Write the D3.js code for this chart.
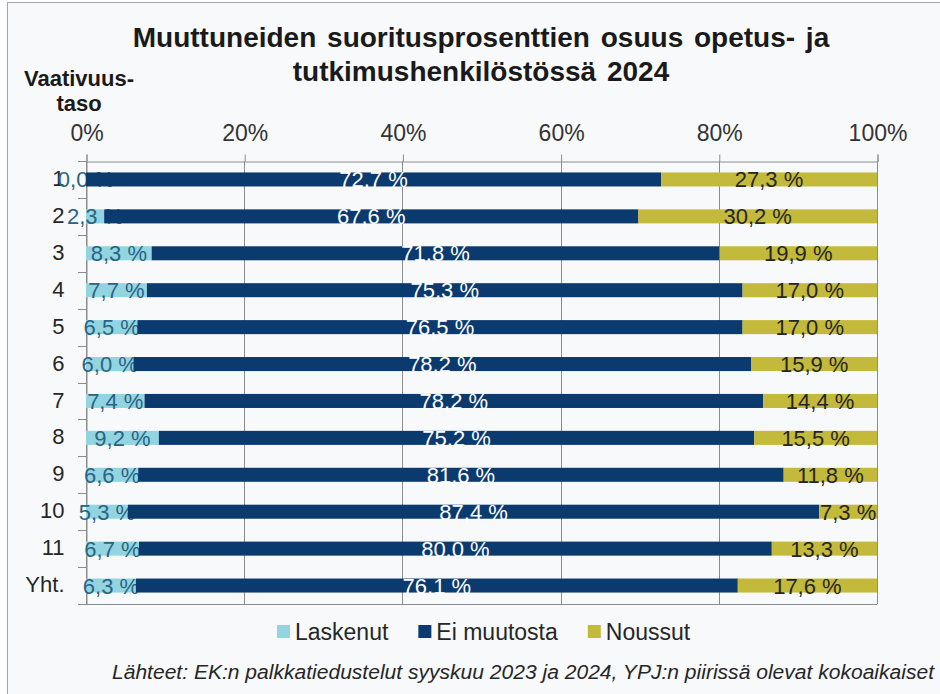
<!DOCTYPE html>
<html>
<head>
<meta charset="utf-8">
<script src="https://cdn.jsdelivr.net/npm/d3@7"></script>
<style>
  body { margin: 0; background: #fff; }
  svg { display: block; }
</style>
</head>
<body>
<div id="chart"></div>
<script>
// Chart data
const categories = ['1', '2', '3', '4', '5', '6', '7', '8', '9', '10', '11', 'Yht.'];
const laskenut = [0.0, 2.3, 8.3, 7.7, 6.5, 6.0, 7.4, 9.2, 6.6, 5.3, 6.7, 6.3];
const eiMuutosta = [72.7, 67.6, 71.8, 75.3, 76.5, 78.2, 78.2, 75.2, 81.6, 87.4, 80.0, 76.1];
const noussut = [27.3, 30.2, 19.9, 17.0, 17.0, 15.9, 14.4, 15.5, 11.8, 7.3, 13.3, 17.6];
const seriesNames = ['Laskenut', 'Ei muutosta', 'Noussut'];
const xTicks = [0, 0.2, 0.4, 0.6, 0.8, 1];
const titleLines = ['Muuttuneiden suoritusprosenttien osuus opetus- ja', 'tutkimushenkilöstössä 2024'];
const axisTitle = ['Vaativuus-', 'taso'];
const sourceText = 'Lähteet:  EK:n palkkatiedustelut  syyskuu 2023 ja 2024, YPJ:n piirissä olevat kokoaikaiset';

const width = 940, height = 694;
const font = '"Liberation Sans", Arial, sans-serif';
const colors = ['#93d4e1', '#0b3a6f', '#c3b93a'];
const labelColors = ['#2a6483', '#ffffff', '#262626'];
const margin = { top: 161, right: 63, bottom: 90, left: 86 };

const fi = d3.formatLocale({ decimal: ',', thousands: ' ', grouping: [3], currency: ['', ' €'] });
const fmtVal = v => fi.format('.1f')(v) + ' %';

const rows = categories.map((c, i) => ({
  cat: c,
  'Laskenut': laskenut[i],
  'Ei muutosta': eiMuutosta[i],
  'Noussut': noussut[i]
}));
const stacked = d3.stack().keys(seriesNames).offset(d3.stackOffsetExpand)(rows);

const svg = d3.select('#chart').append('svg')
  .attr('width', width)
  .attr('height', height)
  .style('font-family', font);

// frame
svg.append('rect')
  .attr('x', 7.5).attr('y', 2.5)
  .attr('width', width).attr('height', height)
  .attr('fill', '#f8f9fb')
  .attr('stroke', '#a6a6a6');

const x = d3.scaleLinear().domain([0, 1]).range([margin.left, width - margin.right]);
const y = d3.scaleBand().domain(categories)
  .range([margin.top, height - margin.bottom])
  .paddingInner(0.62).paddingOuter(0.31);
const step = y.step();

// title
svg.append('g').selectAll('text')
  .data(titleLines)
  .enter().append('text')
  .attr('x', 481)
  .attr('y', (d, i) => 47 + i * 34)
  .attr('text-anchor', 'middle')
  .attr('font-size', 28)
  .attr('font-weight', 'bold')
  .attr('word-spacing', 3)
  .attr('fill', '#1a1a1a')
  .text(d => d);

svg.append('g').selectAll('text')
  .data(axisTitle)
  .enter().append('text')
  .attr('x', 79)
  .attr('y', (d, i) => 86 + i * 25)
  .attr('text-anchor', 'middle')
  .attr('font-size', 22)
  .attr('font-weight', 'bold')
  .attr('fill', '#1a1a1a')
  .text(d => d);

// gridlines
const plotTop = y.range()[0], plotBottom = y.range()[1];
svg.append('g').selectAll('line')
  .data(xTicks)
  .enter().append('line')
  .attr('x1', d => Math.round(x(d)) + 0.5)
  .attr('x2', d => Math.round(x(d)) + 0.5)
  .attr('y1', plotTop)
  .attr('y2', plotBottom)
  .attr('stroke', '#8c8c8c');

// top axis
const xAxis = svg.append('g')
  .attr('transform', `translate(0.5,${Math.round(plotTop) + 0.5})`)
  .call(d3.axisTop(x).tickValues(xTicks).tickFormat(d3.format('.0%')).tickSize(7).tickPadding(14))
  .attr('font-family', font);
xAxis.select('.domain').attr('stroke', '#8c8c8c');
xAxis.selectAll('.tick line').attr('stroke', '#8c8c8c');
xAxis.selectAll('.tick text').attr('font-size', 23).attr('fill', '#333');

// bottom frame line
svg.append('line')
  .attr('x1', x(0)).attr('x2', x(1))
  .attr('y1', Math.round(plotBottom) + 0.5).attr('y2', Math.round(plotBottom) + 0.5)
  .attr('stroke', '#8c8c8c');

// left axis
const yAxis = svg.append('g')
  .attr('transform', `translate(${Math.round(x(0)) + 0.5},0)`)
  .call(d3.axisLeft(y).tickSize(0).tickPadding(22))
  .attr('font-family', font);
yAxis.select('.domain').attr('stroke', '#8c8c8c');
yAxis.selectAll('.tick text').attr('font-size', 22).attr('fill', '#262626').attr('dy', '0.3em');

// ticks between categories
const bounds = categories.map(c => y(c) - step * y.paddingInner() / 2).concat([plotBottom]);
svg.append('g').selectAll('line')
  .data(bounds)
  .enter().append('line')
  .attr('x1', Math.round(x(0)) - 8).attr('x2', Math.round(x(0)))
  .attr('y1', d => Math.round(d) + 0.5).attr('y2', d => Math.round(d) + 0.5)
  .attr('stroke', '#8c8c8c');

// bars and labels, series by series
stacked.forEach((s, si) => {
  const g = svg.append('g');
  g.selectAll('rect')
    .data(s)
    .enter().append('rect')
    .attr('x', d => x(d[0]))
    .attr('y', d => y(d.data.cat))
    .attr('width', d => x(d[1]) - x(d[0]))
    .attr('height', y.bandwidth())
    .attr('fill', colors[si]);
  g.selectAll('text')
    .data(s)
    .enter().append('text')
    .attr('x', d => x((d[0] + d[1]) / 2))
    .attr('y', d => y(d.data.cat) + y.bandwidth() / 2 + 8)
    .attr('text-anchor', 'middle')
    .attr('font-size', 22)
    .attr('fill', labelColors[si])
    .text(d => fmtVal(d.data[s.key]));
});

// legend
const legend = svg.append('g').attr('transform', 'translate(277,625)');
let lx = 0;
seriesNames.forEach((name, i) => {
  const item = legend.append('g').attr('transform', `translate(${lx},0)`);
  item.append('rect').attr('width', 13).attr('height', 13).attr('fill', colors[i]);
  const t = item.append('text')
    .attr('x', 18).attr('y', 15)
    .attr('font-size', 23)
    .attr('fill', '#262626')
    .text(name);
  lx += 18 + t.node().getComputedTextLength() + 30;
});

// source
svg.append('text')
  .attr('x', 112).attr('y', 679)
  .attr('font-size', 20)
  .attr('font-style', 'italic')
  .attr('fill', '#262626')
  .attr('textLength', 822)
  .attr('lengthAdjust', 'spacingAndGlyphs')
  .text(sourceText);
</script>
</body>
</html>
